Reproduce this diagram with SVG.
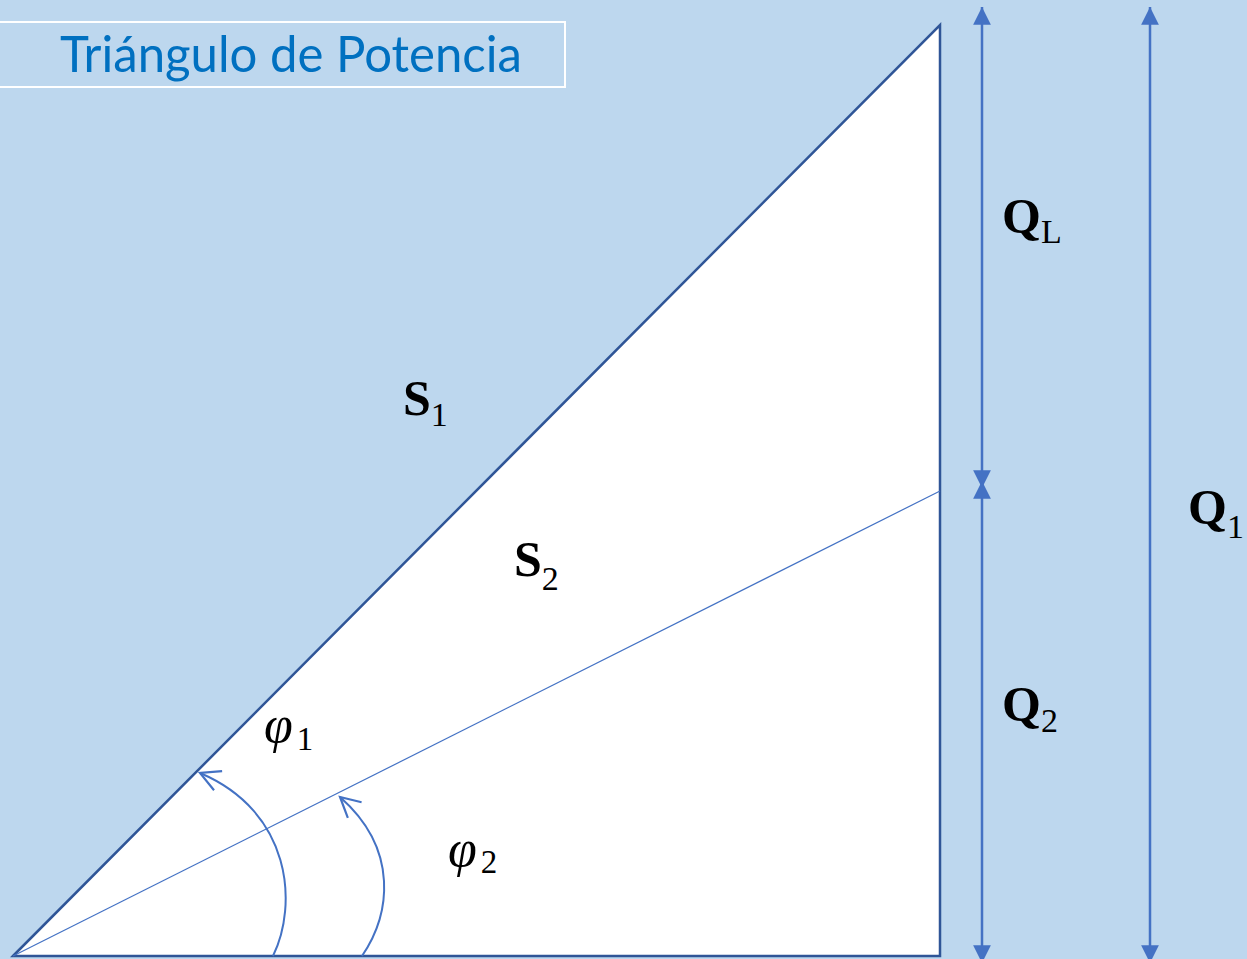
<svg xmlns="http://www.w3.org/2000/svg" width="1247" height="959" viewBox="0 0 1247 959">
<style>
.lbl{font-family:"Liberation Serif","Times New Roman",serif;font-weight:bold;font-size:50px;fill:#000}
.sub{font-weight:normal;font-size:34px}
.phi{font-family:"Liberation Serif","Times New Roman",serif;font-style:italic;font-size:52px;fill:#000}
.phisub{font-style:normal;font-size:33px}
.dim{stroke:#4472C4;stroke-width:2.5;fill:none}
.ang{stroke:#4472C4;stroke-width:2;fill:none}
</style>
<defs>
<marker id="tri" markerUnits="userSpaceOnUse" markerWidth="20" markerHeight="20" viewBox="0 -9 17 18" refX="16" refY="0" orient="auto-start-reverse">
<path d="M0,-8 L16,0 L0,8 z" fill="#4472C4"/>
</marker>
<marker id="open" markerUnits="userSpaceOnUse" markerWidth="24" markerHeight="24" viewBox="-20 -11 22 22" refX="0" refY="0" orient="auto">
<path d="M-18,-9.5 L0,0 L-18,9.5" fill="none" stroke="#4472C4" stroke-width="2"/>
</marker>
</defs>
<rect x="0" y="0" width="1247" height="959" fill="#BDD7EE"/>
<g id="title">
<rect x="-3" y="22" width="568" height="65" fill="none" stroke="#FFFFFF" stroke-width="2"/>
<text x="60" y="72" font-family="Lato,'Open Sans',sans-serif" font-size="50" fill="#0070C0" textLength="462" lengthAdjust="spacingAndGlyphs">Triángulo de Potencia</text>
</g>
<g id="triangle">
<path d="M13,956 L940,25 L940,956 Z" fill="#FFFFFF" stroke="#2F5597" stroke-width="2.5" stroke-linejoin="miter"/>
</g>
<g id="connectors">
<line id="s2-line" x1="13" y1="956" x2="940" y2="491" stroke="#4472C4" stroke-width="1.2"/>
<line id="ql-arrow" class="dim" x1="982" y1="488" x2="982" y2="7" marker-start="url(#tri)" marker-end="url(#tri)"/>
<line id="q2-arrow" class="dim" x1="982" y1="481" x2="982" y2="963" marker-start="url(#tri)" marker-end="url(#tri)"/>
<line id="q1-arrow" class="dim" x1="1150" y1="7" x2="1150" y2="963" marker-start="url(#tri)" marker-end="url(#tri)"/>
<path id="phi1-arc" class="ang" d="M273,956 C298,905 292,812 200,773" marker-end="url(#open)"/>
<path id="phi2-arc" class="ang" d="M362,956 C390,915 400,850 340,797" marker-end="url(#open)"/>
</g>
<g id="label-S1"><text class="lbl" x="403" y="415">S<tspan class="sub" dy="11">1</tspan></text></g>
<g id="label-S2"><text class="lbl" x="514" y="576">S<tspan class="sub" dy="14">2</tspan></text></g>
<g id="label-QL"><text class="lbl" x="1002" y="233">Q<tspan class="sub" dy="10">L</tspan></text></g>
<g id="label-Q2"><text class="lbl" x="1002" y="721">Q<tspan class="sub" dy="11">2</tspan></text></g>
<g id="label-Q1"><text class="lbl" x="1188" y="524">Q<tspan class="sub" dy="14">1</tspan></text></g>
<g id="label-phi1"><text class="phi" x="264" y="742">φ<tspan class="phisub" dx="4" dy="8">1</tspan></text></g>
<g id="label-phi2"><text class="phi" x="448" y="866">φ<tspan class="phisub" dx="4" dy="7">2</tspan></text></g>
</svg>
